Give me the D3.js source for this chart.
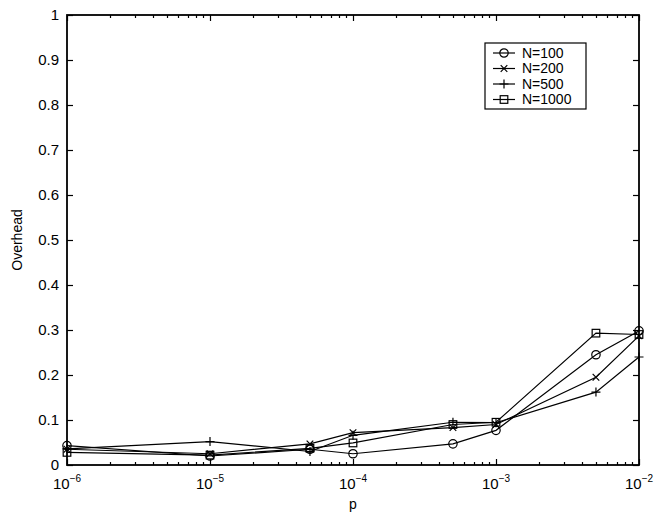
<!DOCTYPE html>
<html>
<head>
<meta charset="utf-8">
<script src="https://cdn.jsdelivr.net/npm/d3@7"></script>
<style>
  body { margin: 0; background: #fff; }
  text { font-family: "Liberation Sans", Arial, sans-serif; fill: #000; }
</style>
</head>
<body>
<div id="chart"></div>
<script>
const pValues = [1e-6, 1e-5, 5e-5, 1e-4, 5e-4, 1e-3, 5e-3, 1e-2];
const n100 = [0.043, 0.020, 0.035, 0.025, 0.047, 0.077, 0.245, 0.298];
const n200 = [0.035, 0.025, 0.047, 0.072, 0.083, 0.090, 0.195, 0.287];
const n500 = [0.036, 0.052, 0.030, 0.066, 0.095, 0.094, 0.162, 0.240];
const n1000 = [0.028, 0.022, 0.037, 0.049, 0.090, 0.095, 0.293, 0.290];
const seriesNames = ["N=100", "N=200", "N=500", "N=1000"];
const seriesMarkers = ["circle", "x", "plus", "square"];
const yTicks = [0, 0.1, 0.2, 0.3, 0.4, 0.5, 0.6, 0.7, 0.8, 0.9, 1];
const xTicks = [1e-6, 1e-5, 1e-4, 1e-3, 1e-2];

const series = [n100, n200, n500, n1000].map((vals, i) => ({
    name: seriesNames[i],
    marker: seriesMarkers[i],
    values: vals.map((v, j) => ({p: pValues[j], v: v}))
}));

const margin = {top: 15, right: 24, bottom: 47, left: 67};
const width = 663 - margin.left - margin.right;
const height = 512 - margin.top - margin.bottom;

const svg = d3.select("#chart")
    .append("svg")
    .attr("width", 663)
    .attr("height", 512)
    .append("g")
    .attr("transform", `translate(${margin.left},${margin.top})`);

const x = d3.scaleLog().domain([1e-6, 1e-2]).range([0, width]);
const y = d3.scaleLinear().domain([0, 1]).range([height, 0]);

// minor log ticks
const minors = [];
for (let e = -6; e < -2; e++) {
    for (let m = 2; m <= 9; m++) minors.push(m * Math.pow(10, e));
}

const tickG = svg.append("g").attr("stroke", "#000").attr("stroke-width", 1.2);
minors.forEach(t => {
    const px = Math.round(x(t)) + 0.5;
    tickG.append("line").attr("x1", px).attr("x2", px).attr("y1", height).attr("y2", height - 3);
    tickG.append("line").attr("x1", px).attr("x2", px).attr("y1", 0).attr("y2", 3);
});
xTicks.forEach(t => {
    const px = Math.round(x(t)) + 0.5;
    tickG.append("line").attr("x1", px).attr("x2", px).attr("y1", height).attr("y2", height - 6);
    tickG.append("line").attr("x1", px).attr("x2", px).attr("y1", 0).attr("y2", 6);
});
yTicks.forEach(t => {
    const py = Math.round(y(t)) + 0.5;
    tickG.append("line").attr("x1", 0).attr("x2", 6).attr("y1", py).attr("y2", py);
    tickG.append("line").attr("x1", width).attr("x2", width - 6).attr("y1", py).attr("y2", py);
});

// frame
svg.append("rect")
    .attr("x", 0).attr("y", 0)
    .attr("width", width).attr("height", height)
    .attr("fill", "none")
    .attr("stroke", "#000")
    .attr("stroke-width", 1.8);

// y labels
svg.append("g").selectAll("text")
    .data(yTicks)
    .join("text")
    .attr("x", -8)
    .attr("y", d => y(d))
    .attr("dy", "0.35em")
    .attr("text-anchor", "end")
    .style("font-size", "15px")
    .text(d => d3.format("~g")(d));

// x labels: 10^e
const xl = svg.append("g").selectAll("text")
    .data(xTicks)
    .join("text")
    .attr("x", d => x(d))
    .attr("y", height + 24)
    .attr("text-anchor", "middle")
    .style("font-size", "15px");
xl.append("tspan").text("10");
xl.append("tspan")
    .attr("dy", -7)
    .style("font-size", "10px")
    .text(d => "\u2212" + Math.round(-Math.log10(d)));

svg.append("text")
    .attr("x", width / 2)
    .attr("y", height + 44)
    .attr("text-anchor", "middle")
    .style("font-size", "14px")
    .text("p");

svg.append("text")
    .attr("transform", "rotate(-90)")
    .attr("x", -height / 2)
    .attr("y", -45)
    .attr("text-anchor", "middle")
    .style("font-size", "14px")
    .text("Overhead");

function drawMarker(g, type, cx, cy) {
    if (type === "circle") {
        g.append("circle").attr("cx", cx).attr("cy", cy).attr("r", 4.2)
            .attr("fill", "none").attr("stroke", "#000").attr("stroke-width", 1.2);
    } else if (type === "square") {
        g.append("rect").attr("x", cx - 3.8).attr("y", cy - 3.8).attr("width", 7.6).attr("height", 7.6)
            .attr("fill", "none").attr("stroke", "#000").attr("stroke-width", 1.2);
    } else if (type === "x") {
        const s = 3.3;
        g.append("path").attr("d", `M${cx - s},${cy - s}L${cx + s},${cy + s}M${cx - s},${cy + s}L${cx + s},${cy - s}`)
            .attr("stroke", "#000").attr("stroke-width", 1.2);
    } else {
        const s = 4.5;
        g.append("path").attr("d", `M${cx - s},${cy}L${cx + s},${cy}M${cx},${cy - s}L${cx},${cy + s}`)
            .attr("stroke", "#000").attr("stroke-width", 1.2);
    }
}

const line = d3.line()
    .x(d => x(d.p))
    .y(d => y(d.v));

series.forEach(s => {
    svg.append("path")
        .datum(s.values)
        .attr("fill", "none")
        .attr("stroke", "#000")
        .attr("stroke-width", 1.2)
        .attr("d", line);
    const mg = svg.append("g");
    s.values.forEach(d => drawMarker(mg, s.marker, x(d.p), y(d.v)));
});

// legend
const legend = svg.append("g")
    .attr("transform", `translate(${485 - margin.left},${43 - margin.top})`);
legend.append("rect")
    .attr("width", 101).attr("height", 66)
    .attr("fill", "#fff")
    .attr("stroke", "#000")
    .attr("stroke-width", 1.2);
series.forEach((s, i) => {
    const ly = 10 + i * 15.5;
    legend.append("line")
        .attr("x1", 8).attr("x2", 30).attr("y1", ly).attr("y2", ly)
        .attr("stroke", "#000").attr("stroke-width", 1.2);
    drawMarker(legend, s.marker, 19, ly);
    legend.append("text")
        .attr("x", 37).attr("y", ly)
        .attr("dy", "0.35em")
        .style("font-size", "14px")
        .text(s.name);
});
</script>
</body>
</html>
